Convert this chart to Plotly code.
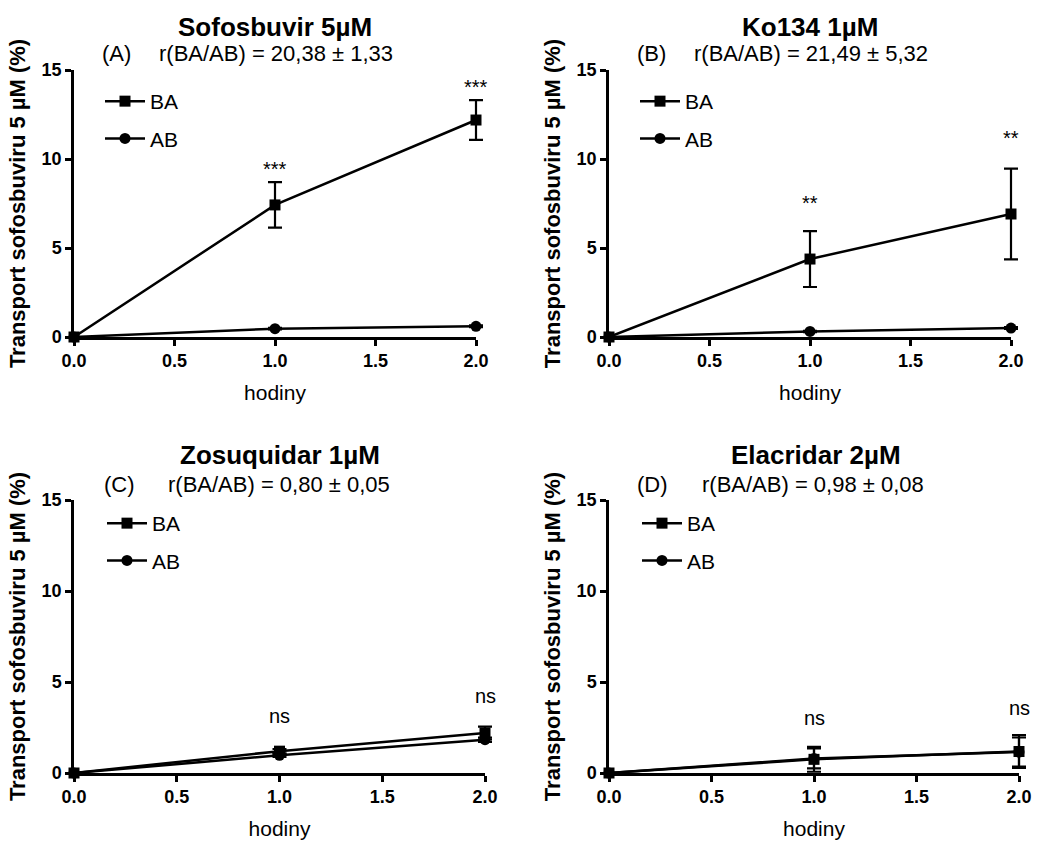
import plotly.graph_objects as go

# ---------------- data ----------------
hours = [0, 1, 2]

panel_titles = ["Sofosbuvir 5µM", "Ko134 1µM", "Zosuquidar 1µM", "Elacridar 2µM"]
panel_letters = ["(A)", "(B)", "(C)", "(D)"]
panel_ratios = ["r(BA/AB) = 20,38 ± 1,33", "r(BA/AB) = 21,49 ± 5,32",
                "r(BA/AB) = 0,80 ± 0,05", "r(BA/AB) = 0,98 ± 0,08"]

ba_A = [0, 7.42, 12.19]
ba_A_err = [0, 1.28, 1.12]
ab_A = [0, 0.47, 0.60]
ab_A_err = [0, 0.04, 0.05]

ba_B = [0, 4.38, 6.91]
ba_B_err = [0, 1.57, 2.55]
ab_B = [0, 0.31, 0.50]
ab_B_err = [0, 0.04, 0.05]

ba_C = [0, 1.20, 2.20]
ba_C_err = [0, 0.12, 0.35]
ab_C = [0, 0.97, 1.83]
ab_C_err = [0, 0.08, 0.12]

ba_D = [0, 0.75, 1.18]
ba_D_err = [0, 0.68, 0.90]
ab_D = [0, 0.80, 1.15]
ab_D_err = [0, 0.55, 0.80]

sig_A = ["***", "***"]
sig_B = ["**", "**"]
sig_C = ["ns", "ns"]
sig_D = ["ns", "ns"]

x_ticks = [0, 0.5, 1.0, 1.5, 2.0]
x_ticktext = ["0.0", "0.5", "1.0", "1.5", "2.0"]
y_ticks = [0, 5, 10, 15]

y_title = "Transport sofosbuviru 5 µM (%)"
x_title = "hodiny"

# ---------------- layout geometry (pixels) ----------------
W, H = 1037, 841
FONT = "Liberation Sans, Arial, sans-serif"
PAD = 12  # extra px for the unclipped data layer

# plot areas: (left, right, top, bottom) in px
areas = [(74, 476, 70, 337), (609, 1011, 70, 337),
         (74, 485, 500, 773), (609, 1019, 500, 773)]
title_pos = [(275, 27), (810, 27), (280, 455), (816, 455)]
sub_pos = [(100, 157, 53), (635, 692, 53), (102, 166, 485), (635, 700, 485)]
legend_pos = [(100, 81), (635, 81), (102, 503), (637, 503)]
sig_y = [[9.44, 14.04], [7.53, 11.18], [3.15, 4.25], [3.01, 3.56]]

ba_all = [(ba_A, ba_A_err), (ba_B, ba_B_err), (ba_C, ba_C_err), (ba_D, ba_D_err)]
ab_all = [(ab_A, ab_A_err), (ab_B, ab_B_err), (ab_C, ab_C_err), (ab_D, ab_D_err)]
sig_all = [sig_A, sig_B, sig_C, sig_D]

fig = go.Figure()
annotations = []
layout_axes = {}

for i in range(4):
    n = "" if i == 0 else str(i + 1)
    xa, ya = "x" + n, "y" + n
    xd = "x" + str(i + 5)           # hidden, slightly wider data axis (no clipping of caps)
    leg = "legend" + n
    (ba, ba_err), (ab, ab_err) = ba_all[i], ab_all[i]
    l, r, t, b = areas[i]
    pxu = (r - l) / 2.0  # px per hour

    fig.add_trace(go.Scatter(
        x=hours, y=ba, name="BA", xaxis=xd, yaxis=ya, legend=leg,
        legendgroup=f"ba{i}", mode="lines+markers", cliponaxis=False,
        line=dict(color="black", width=2.5),
        marker=dict(symbol="square", size=11, color="black"),
        error_y=dict(type="data", array=ba_err, color="black", thickness=2.2, width=7)))
    fig.add_trace(go.Scatter(
        x=hours, y=ab, name="AB", xaxis=xd, yaxis=ya, legend=leg,
        legendgroup=f"ab{i}", mode="lines+markers", cliponaxis=False,
        line=dict(color="black", width=2.5),
        marker=dict(symbol="circle", size=11, color="black"),
        error_y=dict(type="data", array=ab_err, color="black", thickness=2.2, width=7)))

    layout_axes["xaxis" + n] = dict(
        domain=[l / W, r / W], anchor=ya, range=[0, 2], automargin=False,
        tickvals=x_ticks, ticktext=x_ticktext,
        showline=True, linecolor="black", linewidth=2.5,
        ticks="outside", ticklen=6, tickwidth=2.5, tickcolor="black",
        showgrid=False, zeroline=False,
        tickfont=dict(family=FONT, size=18, color="black", weight="bold"),
        title=dict(text=x_title, standoff=15,
                   font=dict(family=FONT, size=21, color="black")))
    layout_axes["xaxis" + str(i + 5)] = dict(
        domain=[(l - PAD) / W, (r + PAD) / W], anchor=ya,
        range=[-PAD / pxu, 2 + PAD / pxu], automargin=False,
        visible=False, showgrid=False, zeroline=False)
    layout_axes["yaxis" + n] = dict(
        domain=[(H - b) / H, (H - t) / H], anchor=xa, range=[0, 15], automargin=False,
        tickvals=y_ticks,
        showline=True, linecolor="black", linewidth=2.5,
        ticks="outside", ticklen=6, tickwidth=2.5, tickcolor="black",
        showgrid=False, zeroline=False,
        tickfont=dict(family=FONT, size=18, color="black", weight="bold"),
        title=dict(text=y_title, standoff=10,
                   font=dict(family=FONT, size=22, color="black", weight="bold")))

    lx, ly = legend_pos[i]
    layout_axes[leg] = dict(
        x=lx / W, y=(H - ly) / H, xanchor="left", yanchor="top",
        bgcolor="rgba(0,0,0,0)", borderwidth=0, itemwidth=40,
        tracegroupgap=7, traceorder="grouped",
        font=dict(family=FONT, size=21, color="black"))

    tx, ty = title_pos[i]
    annotations.append(dict(
        x=tx / W, y=(H - ty) / H, xref="paper", yref="paper", showarrow=False,
        text=panel_titles[i], xanchor="center", yanchor="middle",
        font=dict(family=FONT, size=26, color="black", weight="bold")))
    sx1, sx2, sy = sub_pos[i]
    annotations.append(dict(
        x=sx1 / W, y=(H - sy) / H, xref="paper", yref="paper", showarrow=False,
        text=panel_letters[i], xanchor="left", yanchor="middle",
        font=dict(family=FONT, size=22, color="black")))
    annotations.append(dict(
        x=sx2 / W, y=(H - sy) / H, xref="paper", yref="paper", showarrow=False,
        text=panel_ratios[i], xanchor="left", yanchor="middle",
        font=dict(family=FONT, size=22, color="black")))

    for k, lab in enumerate(sig_all[i]):
        annotations.append(dict(
            x=hours[k + 1], y=sig_y[i][k], xref=xa, yref=ya, showarrow=False,
            text=lab, xanchor="center", yanchor="middle",
            font=dict(family=FONT, size=20, color="black")))

fig.update_layout(
    width=W, height=H, margin=dict(l=0, r=0, t=0, b=0, autoexpand=False),
    paper_bgcolor="white", plot_bgcolor="rgba(0,0,0,0)",
    annotations=annotations, **layout_axes)

fig.write_html("out.html", config={"displayModeBar": False},
               post_script="document.body.style.margin='0';document.body.style.padding='0';")
